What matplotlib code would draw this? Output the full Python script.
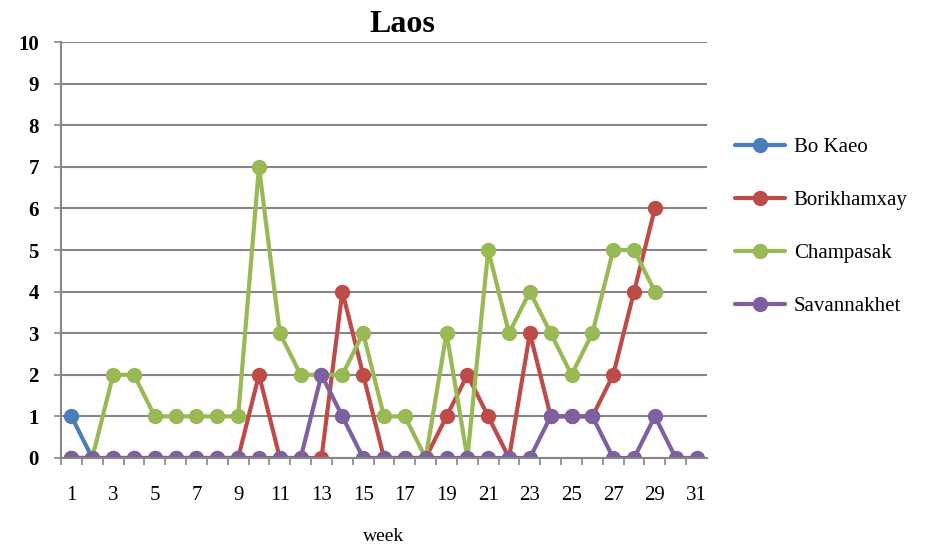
import matplotlib.pyplot as plt

weeks = list(range(1, 32))

bo_kaeo = [1, 0]
borikhamxay = [0, 0, 0, 0, 0, 0, 0, 0, 0, 2, 0, 0, 0, 4, 2, 0, 0, 0, 1, 2,
               1, 0, 3, 1, 1, 1, 2, 4, 6]
champasak = [0, 0, 2, 2, 1, 1, 1, 1, 1, 7, 3, 2, 2, 2, 3, 1, 1, 0, 3, 0,
             5, 3, 4, 3, 2, 3, 5, 5, 4]
savannakhet = [0, 0, 0, 0, 0, 0, 0, 0, 0, 0, 0, 0, 2, 1, 0, 0, 0, 0, 0, 0,
               0, 0, 0, 1, 1, 1, 0, 0, 1, 0, 0]

series = [
    ("Bo Kaeo", bo_kaeo, "#4A7EBB"),
    ("Borikhamxay", borikhamxay, "#BE4B48"),
    ("Champasak", champasak, "#98B954"),
    ("Savannakhet", savannakhet, "#7D60A0"),
]

plt.rcParams['font.family'] = ['Liberation Serif', 'DejaVu Serif']

fig = plt.figure(figsize=(9.26, 5.5), dpi=100)
ax = fig.add_axes([0.0659, 0.1673, 0.6976, 0.7563])

for name, vals, color in series:
    ax.plot(weeks[:len(vals)], vals, color=color, lw=3, marker='o',
            markersize=10, label=name, solid_capstyle='round')

ax.set_xlim(0.5, 31.5)
ax.set_ylim(0, 10)
ax.set_yticks(range(0, 11))
ax.set_yticklabels([str(i) for i in range(0, 11)], fontsize=15, fontweight='bold')
ax.set_xticks(range(1, 32, 2))
ax.set_xticklabels([str(i) for i in range(1, 32, 2)], fontsize=15)
ax.set_xticks([w + 0.5 for w in range(0, 31)], minor=True)
ax.tick_params(axis='x', which='major', length=0, pad=20)
ax.tick_params(axis='x', which='minor', length=5, color='#868686', width=1.2)
ax.tick_params(axis='y', length=5, color='#868686', width=1.2, pad=11)

ax.grid(axis='y', color='#868686', lw=1.5)
ax.set_axisbelow(True)
for s in ['top', 'right']:
    ax.spines[s].set_visible(False)
for s in ['left', 'bottom']:
    ax.spines[s].set_color('#868686')
    ax.spines[s].set_linewidth(1.5)

fig.text(402 / 926, 1 - 24 / 550, "Laos", fontsize=23, fontweight='bold',
         ha='center', va='center')
ax.set_xlabel("week", fontsize=14, labelpad=17)

ax.legend(loc='center left', bbox_to_anchor=(1.015, 0.556), frameon=False,
          fontsize=15, labelspacing=1.6, handlelength=2.4, handletextpad=0.4)

fig.savefig("out.png", dpi=100)
